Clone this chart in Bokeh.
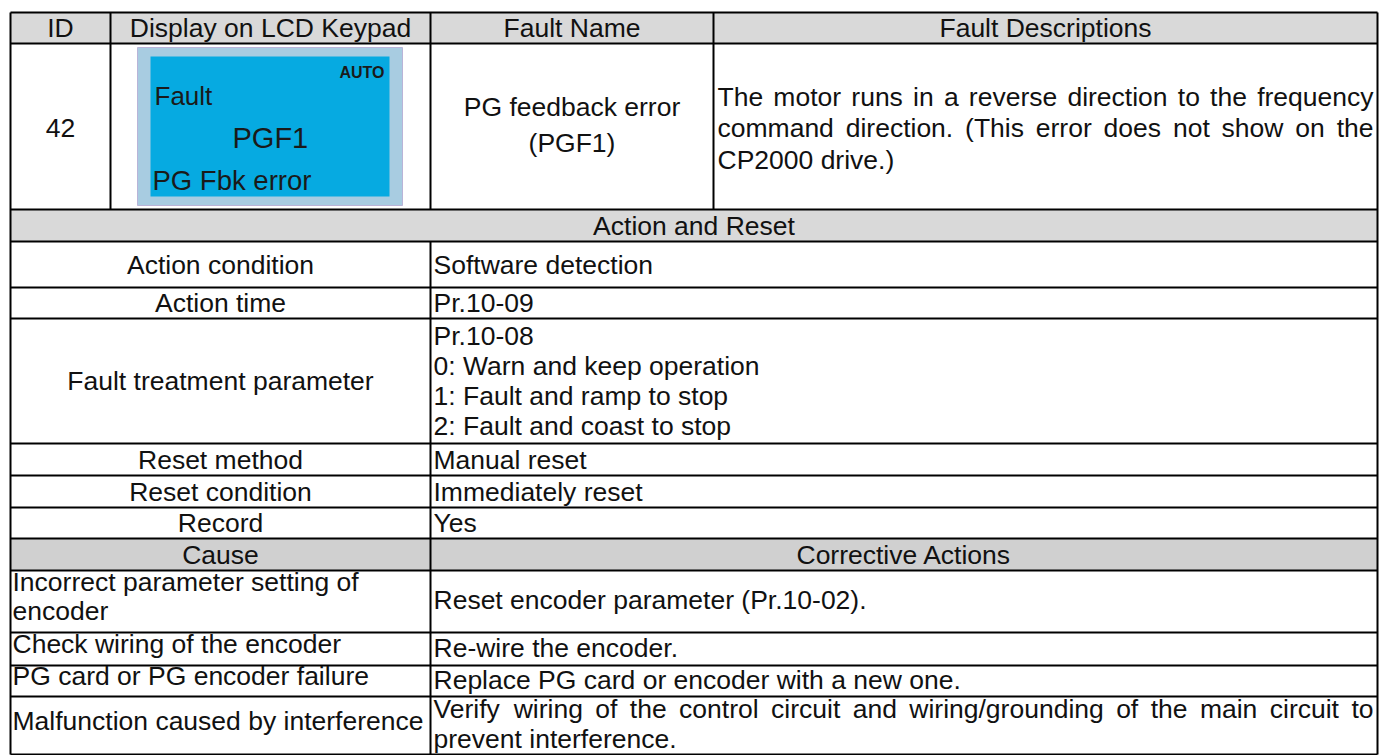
from bokeh.plotting import figure
from bokeh.models import Range1d
from bokeh.core.properties import value
from bokeh.embed import file_html
from bokeh.resources import INLINE

# ---------------- data (table content) ----------------
header_labels = ["ID", "Display on LCD Keypad", "Fault Name", "Fault Descriptions"]
fault_id = "42"
lcd_mode = "AUTO"
lcd_lines = ["Fault", "PGF1", "PG Fbk error"]
fault_name_lines = ["PG feedback error", "(PGF1)"]
description_lines = [
    "The motor runs in a reverse direction to the frequency",
    "command direction. (This error does not show on the",
    "CP2000 drive.)",
]
section_title = "Action and Reset"
action_labels = ["Action condition", "Action time", "Fault treatment parameter",
                 "Reset method", "Reset condition", "Record"]
action_values = [
    ["Software detection"],
    ["Pr.10-09"],
    ["Pr.10-08", "0: Warn and keep operation", "1: Fault and ramp to stop",
     "2: Fault and coast to stop"],
    ["Manual reset"],
    ["Immediately reset"],
    ["Yes"],
]
cause_header = ["Cause", "Corrective Actions"]
causes = [
    ["Incorrect parameter setting of", "encoder"],
    ["Check wiring of the encoder"],
    ["PG card or PG encoder failure"],
    ["Malfunction caused by interference"],
]
corrective_actions = [
    ["Reset encoder parameter (Pr.10-02)."],
    ["Re-wire the encoder."],
    ["Replace PG card or encoder with a new one."],
    ["Verify wiring of the control circuit and wiring/grounding of the main circuit to",
     "prevent interference."],
]

# ---------------- layout (pixel geometry of the table) ----------------
W, H = 1379, 755
X0, X_ID, X_DISP, X_NAME, X1 = 10, 110, 430, 713, 1377
Y_TOP, Y_HEAD, Y_R1, Y_AR = 12, 43, 209, 241
action_edges = [241, 287, 318, 443, 475, 507, 538]
Y_CAUSE = 570
cause_edges = [570, 632, 665, 696, 754]

FONT = "Liberation Sans"
SIZE = 26.5
INK = "#111111"
HEAD_GRAY = "#d9d9d9"
CAUSE_GRAY = "#d0d0d0"

# Arial / Helvetica advance widths (1/1000 em) used to justify lines
HELV = {" ": 278, "!": 278, "(": 333, ")": 333, ",": 278, "-": 333, ".": 278, "/": 278,
        ":": 278, "0": 556, "1": 556, "2": 556, "3": 556, "4": 556, "5": 556, "6": 556,
        "7": 556, "8": 556, "9": 556, "A": 667, "B": 667, "C": 722, "D": 722, "E": 667,
        "F": 611, "G": 778, "H": 722, "I": 278, "J": 500, "K": 667, "L": 556, "M": 833,
        "N": 722, "O": 778, "P": 667, "Q": 778, "R": 722, "S": 667, "T": 611, "U": 722,
        "V": 667, "W": 944, "X": 667, "Y": 667, "Z": 611, "a": 556, "b": 556, "c": 500,
        "d": 556, "e": 556, "f": 278, "g": 556, "h": 556, "i": 222, "j": 222, "k": 500,
        "l": 222, "m": 833, "n": 556, "o": 556, "p": 556, "q": 556, "r": 333, "s": 500,
        "t": 278, "u": 556, "v": 500, "w": 722, "x": 500, "y": 500, "z": 500}

p = figure(width=W, height=H, x_range=Range1d(0, W), y_range=Range1d(H, 0),
           output_backend="svg", toolbar_location=None, min_border=0,
           x_axis_location=None, y_axis_location=None)
p.grid.visible = False
p.outline_line_color = None
p.background_fill_color = "white"
p.border_fill_color = "white"


def line_y(center, i=0, n=1, lh=30):
    return center + (i - (n - 1) / 2) * lh


def put(x, y, s, size=SIZE, align="left", style="normal", color=INK):
    xs = x if isinstance(x, list) else [x]
    ys = y if isinstance(y, list) else [y]
    ss = s if isinstance(s, list) else [s]
    p.text(x=xs, y=ys, text=ss, text_font=value(FONT), text_font_size=f"{size}px",
           text_align=align, text_baseline="alphabetic", text_font_style=style,
           text_color=color)


def text_width(s, size):
    return sum(HELV.get(ch, 556) for ch in s) / 1000 * size


def put_justified(xl, xr, y, s, size=SIZE):
    words = s.split(" ")
    widths = [text_width(w, size) for w in words]
    gap = (xr - xl - sum(widths)) / (len(words) - 1)
    xs, x = [], xl
    for wd in widths:
        xs.append(x)
        x += wd + gap
    put(xs, [y] * len(words), words, size)


# gray band fills
p.quad(left=[X0, X0, X0], right=[X1, X1, X1], top=[Y_TOP, Y_R1, action_edges[-1]],
       bottom=[Y_HEAD, Y_AR, Y_CAUSE], fill_color=[HEAD_GRAY, HEAD_GRAY, CAUSE_GRAY],
       line_color=None)

# LCD keypad picture
p.quad(left=[137], right=[402], top=[47], bottom=[205], fill_color="#a8cce1",
       line_color="#b9b4d8", line_width=1)
p.quad(left=[150], right=[389], top=[56], bottom=[196], fill_color="#06aae1",
       line_color=None)
put(384, 72, lcd_mode, 16, align="right", style="bold", color="#1a1a1a")
put(154, 95.5, lcd_lines[0], 26, color="#1a1a1a")
put(232, 137, lcd_lines[1], 29, color="#1a1a1a")
put(152, 180, lcd_lines[2], 27.5, color="#1a1a1a")

# grid lines
h_ys = [Y_TOP, Y_HEAD, Y_R1, Y_AR] + action_edges[1:] + cause_edges
x0s, y0s, x1s, y1s = [], [], [], []
for y in h_ys:
    x0s.append(X0); x1s.append(X1); y0s.append(y); y1s.append(y)
for x in (X0, X1):
    x0s.append(x); x1s.append(x); y0s.append(Y_TOP); y1s.append(cause_edges[-1])
for x in (X_ID, X_NAME):
    x0s.append(x); x1s.append(x); y0s.append(Y_TOP); y1s.append(Y_R1)
x0s += [X_DISP, X_DISP]; x1s += [X_DISP, X_DISP]
y0s += [Y_TOP, Y_AR]; y1s += [Y_R1, cause_edges[-1]]
p.segment(x0=x0s, y0=y0s, x1=x1s, y1=y1s, line_color="black", line_width=2)

# header row
hc = (Y_TOP + Y_HEAD) / 2
col_centers = [(X0 + X_ID) / 2, (X_ID + X_DISP) / 2, (X_DISP + X_NAME) / 2, (X_NAME + X1) / 2]
for cx, lab in zip(col_centers, header_labels):
    put(cx, hc, lab, align="center")

# first data row
rc = (Y_HEAD + Y_R1) / 2
put(col_centers[0], rc + 1, fault_id, align="center")
for i, s in enumerate(fault_name_lines):
    put(col_centers[2], line_y(rc - 2, i, len(fault_name_lines), 36), s, align="center")
for i, s in enumerate(description_lines):
    y = line_y(rc + 1.5, i, len(description_lines), 31.5)
    if i < len(description_lines) - 1:
        put_justified(X_NAME + 4, X1 - 4, y, s)
    else:
        put(X_NAME + 4, y, s)

# Action and Reset title
put((X0 + X1) / 2, (Y_R1 + Y_AR) / 2, section_title, align="center")

# action rows
for k, (lab, vals) in enumerate(zip(action_labels, action_values)):
    c = (action_edges[k] + action_edges[k + 1]) / 2
    put((X0 + X_DISP) / 2, c, lab, align="center")
    for i, s in enumerate(vals):
        put(X_DISP + 3, line_y(c, i, len(vals), 30), s)

# cause header
cc = (action_edges[-1] + Y_CAUSE) / 2
put((X0 + X_DISP) / 2, cc, cause_header[0], align="center")
put((X_DISP + X1) / 2, cc, cause_header[1], align="center")

# cause rows
for k, (cz, act) in enumerate(zip(causes, corrective_actions)):
    c = (cause_edges[k] + cause_edges[k + 1]) / 2
    for i, s in enumerate(cz):
        put(X0 + 2, line_y(c - 5, i, len(cz), 29.5), s)
    for i, s in enumerate(act):
        y = line_y(c - 1.5, i, len(act), 29.5)
        if len(act) > 1 and i < len(act) - 1:
            put_justified(X_DISP + 3, X1 - 4, y, s)
        else:
            put(X_DISP + 3, y, s)

open("out.html", "w").write(file_html(p, INLINE))
